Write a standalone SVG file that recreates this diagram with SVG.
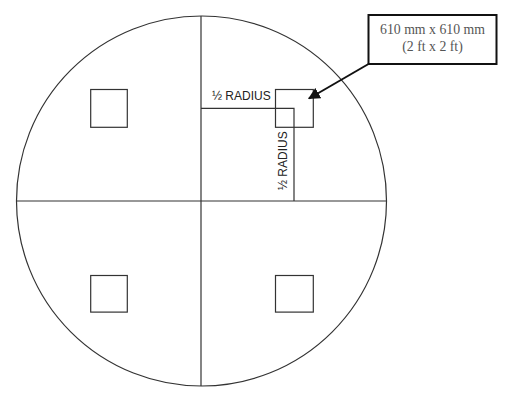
<svg xmlns="http://www.w3.org/2000/svg" width="519" height="400" viewBox="0 0 519 400">
<defs>
<style>
.ln{fill:none;stroke:#333;stroke-width:1.2}
.sq{fill:none;stroke:#333;stroke-width:1.2}
.lbl{font-family:"Liberation Sans",Arial,sans-serif;font-size:12px;fill:#222}
.cl{font-family:"Liberation Serif","Times New Roman",serif;font-size:13.8px;fill:#555;text-anchor:middle}
</style>
<marker id="ah" viewBox="0 0 10 10" refX="9" refY="5" markerWidth="6" markerHeight="6" orient="auto" markerUnits="strokeWidth">
<path d="M0,0 L10,5 L0,10 z" fill="#111"/>
</marker>
</defs>
<rect width="519" height="400" fill="#fff"/>
<g id="circle">
<circle cx="201.5" cy="201" r="185" class="ln"/>
<line x1="201" y1="16" x2="201" y2="386" class="ln"/>
<line x1="16.5" y1="201" x2="386.5" y2="201" class="ln"/>
</g>
<g id="sq-tl"><rect x="90.7" y="89.5" width="36.6" height="37.8" class="sq"/></g>
<g id="sq-tr"><rect x="275.5" y="89.5" width="37.8" height="37.8" class="sq"/></g>
<g id="sq-bl"><rect x="90.7" y="275.5" width="36.6" height="36.6" class="sq"/></g>
<g id="sq-br"><rect x="275.5" y="275.5" width="37.8" height="36.6" class="sq"/></g>
<g id="half-radius">
<polyline points="201,108.3 294,108.3 294,201" class="ln"/>
<text x="212" y="100" class="lbl">½ RADIUS</text>
<text transform="translate(287,190) rotate(-90)" class="lbl">½ RADIUS</text>
</g>
<g id="callout">
<rect x="368.5" y="15" width="128" height="49" fill="#fff" stroke="#111" stroke-width="2"/>
<text x="432.5" y="34" class="cl">610 mm x 610 mm</text>
<text x="432.5" y="50.5" class="cl">(2 ft x 2 ft)</text>
</g>
<g id="connectors">
<line x1="368.5" y1="64" x2="309" y2="98.5" stroke="#111" stroke-width="2" marker-end="url(#ah)"/>
</g>
</svg>
